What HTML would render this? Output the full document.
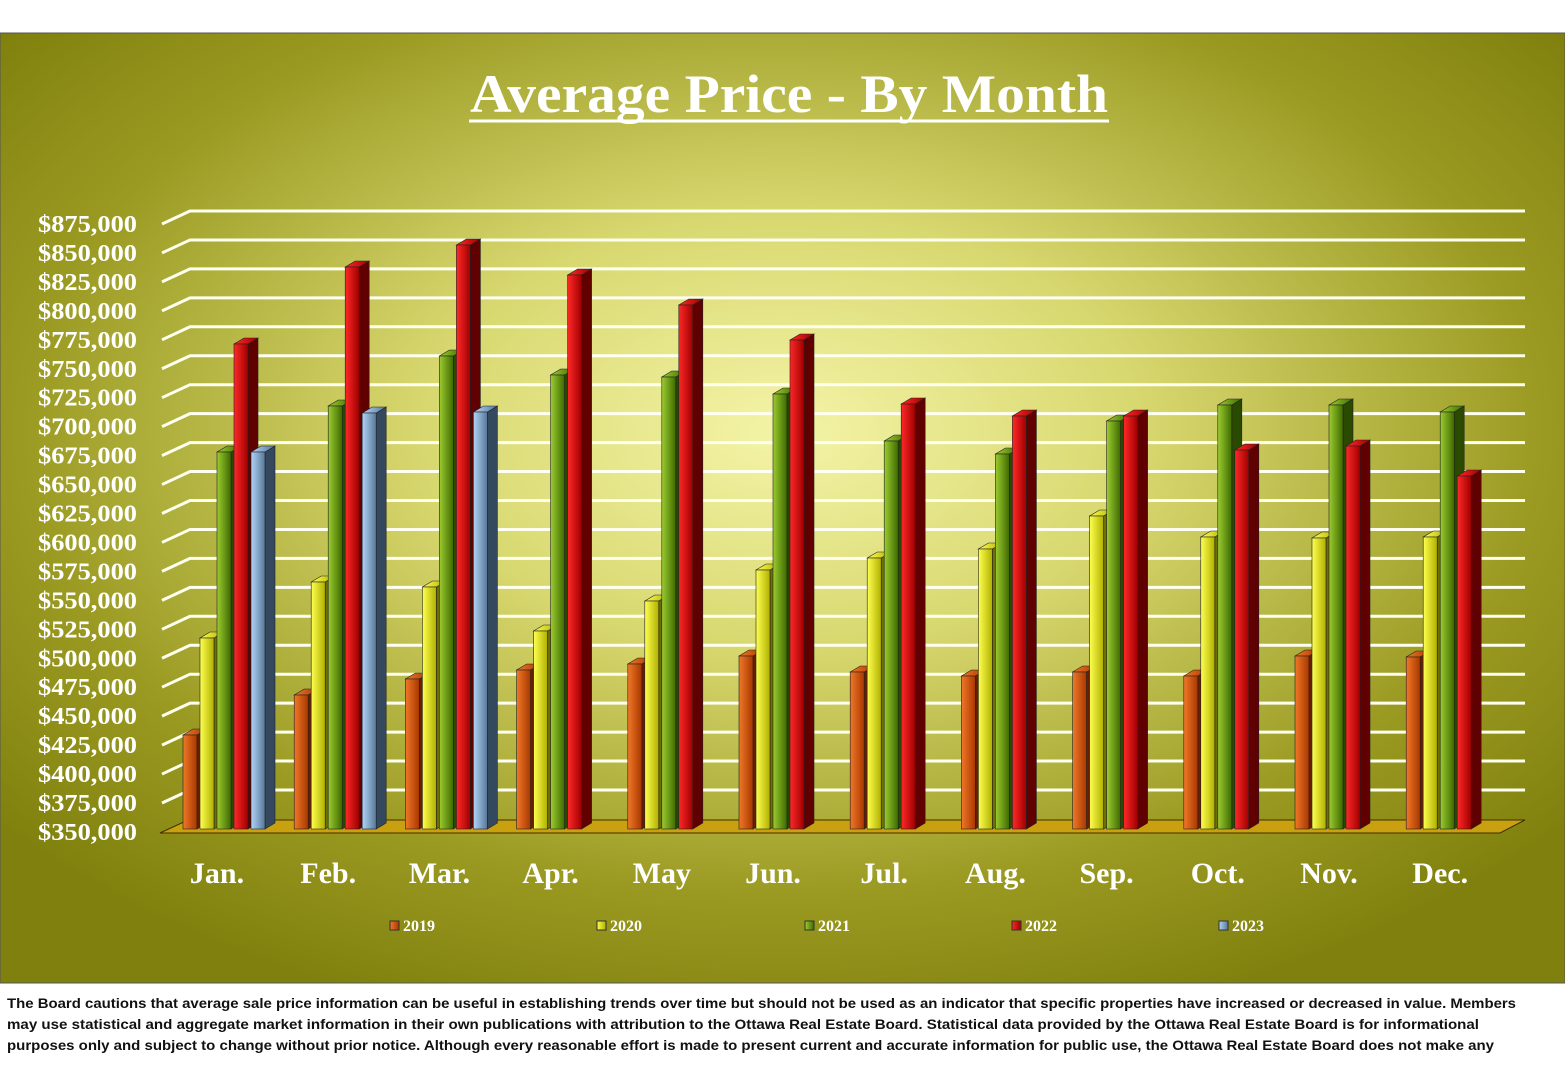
<!DOCTYPE html>
<html><head><meta charset="utf-8"><style>
body{margin:0;background:#fff;width:1565px;height:1080px;overflow:hidden;font-family:"Liberation Sans",sans-serif}
</style></head><body>
<svg width="1565" height="1080" style="position:absolute;left:0;top:0">
<defs>
<radialGradient id="bg" cx="0.5" cy="0.42" r="0.65">
<stop offset="0" stop-color="#f4f4a8"/><stop offset="0.35" stop-color="#d8d870"/><stop offset="0.75" stop-color="#9a9a22"/><stop offset="1" stop-color="#80800e"/></radialGradient>
<linearGradient id="g0"><stop offset="0" stop-color="#f07828"/><stop offset="1" stop-color="#a83800"/></linearGradient>
<linearGradient id="g1"><stop offset="0" stop-color="#ffff50"/><stop offset="1" stop-color="#b0b000"/></linearGradient>
<linearGradient id="g2"><stop offset="0" stop-color="#9ccc30"/><stop offset="1" stop-color="#3e6a00"/></linearGradient>
<linearGradient id="g3"><stop offset="0" stop-color="#ff2828"/><stop offset="1" stop-color="#a00000"/></linearGradient>
<linearGradient id="g4"><stop offset="0" stop-color="#b0d4f8"/><stop offset="1" stop-color="#587898"/></linearGradient>
</defs>
<rect x="0" y="33" width="1565" height="950" fill="url(#bg)" stroke="#555" stroke-width="1"/>
<text x="789" y="112" text-anchor="middle" font-family="Liberation Serif,serif" font-weight="bold" font-size="54" fill="#fff" textLength="638" lengthAdjust="spacingAndGlyphs">Average Price - By Month</text>
<line x1="469" y1="121" x2="1109" y2="121" stroke="#fff" stroke-width="3"/>
<g id="grid" stroke="#fffff0" stroke-width="3" fill="none"></g>
<g id="lab" font-family="Liberation Serif,serif" font-weight="bold" font-size="24" fill="#fff" text-anchor="end"></g>
<polygon points="160,833 1500,833 1525,820 188,820" fill="#c8a010" stroke="#403000" stroke-width="1"/>
<g id="bars"></g>
<g font-family="Liberation Serif,serif" font-weight="bold" font-size="30" fill="#fff" text-anchor="middle" id="mon"></g>
<g font-family="Liberation Serif,serif" font-weight="bold" font-size="16" fill="#fff">
<rect x="390" y="921" width="9" height="9" fill="url(#g0)" stroke="#333"/><text x="403" y="931">2019</text>
<rect x="597" y="921" width="9" height="9" fill="url(#g1)" stroke="#333"/><text x="610" y="931">2020</text>
<rect x="805" y="921" width="9" height="9" fill="url(#g2)" stroke="#333"/><text x="818" y="931">2021</text>
<rect x="1012" y="921" width="9" height="9" fill="url(#g3)" stroke="#333"/><text x="1025" y="931">2022</text>
<rect x="1219" y="921" width="9" height="9" fill="url(#g4)" stroke="#333"/><text x="1232" y="931">2023</text>
</g>
<g font-family="Liberation Sans,sans-serif" font-weight="bold" font-size="14" fill="#111">
<text x="7" y="1008" textLength="1509" lengthAdjust="spacingAndGlyphs">The Board cautions that average sale price information can be useful in establishing trends over time but should not be used as an indicator that specific properties have increased or decreased in value.  Members</text>
<text x="7" y="1029" textLength="1472" lengthAdjust="spacingAndGlyphs">may use statistical and aggregate market information in their own publications with attribution to the Ottawa Real Estate Board. Statistical data provided by the Ottawa Real Estate Board is for informational</text>
<text x="7" y="1050" textLength="1487" lengthAdjust="spacingAndGlyphs">purposes only and subject to change without prior notice. Although every reasonable effort is made to present current and accurate information for public use, the Ottawa Real Estate Board does not make any</text>
</g>
</svg>
<script>
var NS="http://www.w3.org/2000/svg";
function el(p,t,a){var e=document.createElementNS(NS,t);for(var k in a)e.setAttribute(k,a[k]);p.appendChild(e);return e;}
var grid=document.getElementById('grid'),lab=document.getElementById('lab');
for(var i=0;i<=21;i++){var y=224+i*28.95,v=875000-i*25000;
 if(i<21)el(grid,'polyline',{points:"162,"+y+" 190,"+(y-13)+" 1525,"+(y-13)});
 var t=el(lab,'text',{x:137,y:y+8,textLength:99,lengthAdjust:'spacingAndGlyphs'});t.textContent="$"+v.toLocaleString('en-US');}
var d=[[735,638,452,344,452],[695,582,406,267,413],[679,587,356,245,412],[670,631,375,275],[664,601,377,305],[656,570,394,340],[672,558,441,404],[676,549,454,416],[672,516,421,416],[676,537,405,450],[656,538,405,446],[657,537,412,476]];
var side=['#6a2000','#707000','#2a4a00','#600000','#34485e'];
var bars=document.getElementById('bars'),mon=document.getElementById('mon');
var names=["Jan.","Feb.","Mar.","Apr.","May","Jun.","Jul.","Aug.","Sep.","Oct.","Nov.","Dec."];
for(var m=0;m<12;m++){var x0=183+m*111.2;
 var t=el(mon,'text',{x:217+m*111.2,y:883});t.textContent=names[m];
 for(var s=0;s<d[m].length;s++){var x=x0+s*17,y=d[m][s],w=14,dx=10,dy=6,b=829;
  el(bars,'polygon',{points:(x+w)+","+y+" "+(x+w+dx)+","+(y-dy)+" "+(x+w+dx)+","+(b-dy)+" "+(x+w)+","+b,fill:side[s],stroke:'#222','stroke-width':0.6});
  el(bars,'polygon',{points:x+","+y+" "+(x+dx)+","+(y-dy)+" "+(x+w+dx)+","+(y-dy)+" "+(x+w)+","+y,fill:'url(#g'+s+')',stroke:'#222','stroke-width':0.6});
  el(bars,'rect',{x:x,y:y,width:w,height:b-y,fill:'url(#g'+s+')',stroke:'#222','stroke-width':0.6});}}
</script>
</body></html>
